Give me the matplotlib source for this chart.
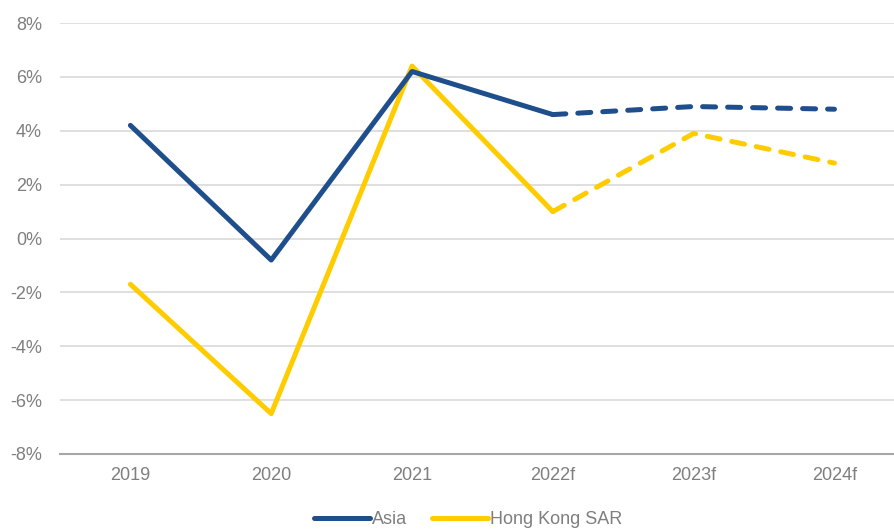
import matplotlib
matplotlib.use("Agg")
import matplotlib.pyplot as plt
from matplotlib.lines import Line2D
from matplotlib.ticker import FuncFormatter

categories = ["2019", "2020", "2021", "2022f", "2023f", "2024f"]
asia = [4.2, -0.8, 6.2, 4.6, 4.9, 4.8]
hong_kong = [-1.7, -6.5, 6.4, 1.0, 3.9, 2.8]
forecast_start = 3  # index of 2022f, dashed afterwards

ASIA_C = "#1f4e8c"
HK_C = "#ffcc00"
TXT = "#7f7f7f"

plt.rcParams['font.family'] = ['Liberation Sans', 'DejaVu Sans']

fig = plt.figure(figsize=(8.95, 5.31), dpi=100)
ax = fig.add_axes([60/895, 1 - 454/531, 1 - 60/895, (454 - 23)/531])

x = list(range(len(categories)))
lw = 3.6
for vals, c in [(hong_kong, HK_C), (asia, ASIA_C)]:
    ax.plot(x[:forecast_start + 1], vals[:forecast_start + 1], color=c, lw=lw,
            solid_capstyle='round', solid_joinstyle='round', zorder=3)
    ax.plot(x[forecast_start:], vals[forecast_start:], color=c, lw=lw,
            dashes=(2.6, 2.4), dash_capstyle='round', dash_joinstyle='round', zorder=3)

ax.set_xlim(-0.5, 5.43)
ax.set_ylim(-8, 8)
ax.set_yticks(range(-8, 9, 2))
ax.yaxis.set_major_formatter(FuncFormatter(lambda v, p: f"{int(v)}%"))
ax.set_xticks(x)
ax.set_xticklabels(categories)
ax.grid(axis='y', color='#d9d9d9', lw=1.2)
ax.set_axisbelow(True)
for s in ['top', 'right', 'left']:
    ax.spines[s].set_visible(False)
ax.spines['bottom'].set_color('#a6a6a6')
ax.spines['bottom'].set_linewidth(1.5)
ax.spines['bottom'].set_zorder(2)
ax.tick_params(axis='both', length=0, labelsize=13, colors=TXT)
ax.tick_params(axis='y', pad=13)
ax.tick_params(axis='x', pad=9)

handles = [Line2D([], [], color=ASIA_C, lw=lw, solid_capstyle='round'),
           Line2D([], [], color=HK_C, lw=lw, solid_capstyle='round')]
leg = fig.legend(handles, ["Asia", "Hong Kong SAR"], loc='center',
                 bbox_to_anchor=(468/895, 1 - 520/531), ncol=2, frameon=False,
                 fontsize=13, handlelength=3.1, handletextpad=0.1,
                 columnspacing=1.4, labelcolor=TXT)

fig.savefig("out.png", dpi=100)
